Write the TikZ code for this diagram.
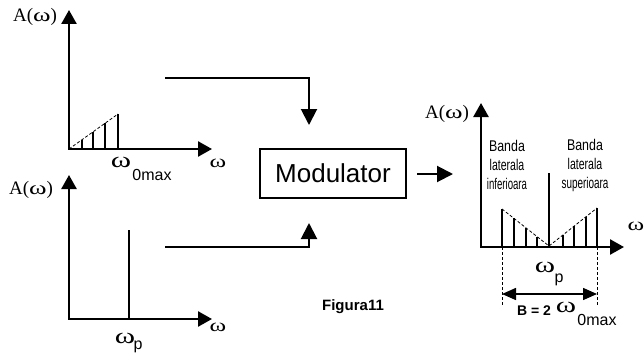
\documentclass[tikz,border=0pt]{standalone}
\usepackage{fontspec}
\usepackage{graphicx}
\setmainfont{Liberation Sans}
\newfontfamily\serif{Liberation Serif}
\newcommand\wom{\scalebox{1.4}[1]{ω}}
\usetikzlibrary{arrows.meta,calc}
\begin{document}
\begin{tikzpicture}[x=1pt,y=-1pt,
  axis/.style={line width=2.5pt,{Triangle[length=14pt,width=15pt]}-{Triangle[length=14pt,width=15pt]}},
  conn/.style={line width=2pt,-{Triangle[length=16pt,width=16pt]}},
  bar/.style={line width=1.8pt},
  env/.style={line width=0.8pt,dash pattern=on 3pt off 2pt},
  guide/.style={line width=0.8pt,dash pattern=on 3pt off 2pt},
  lbl/.style={inner sep=0pt,font=\serif\fontsize{19}{19}\selectfont},
  om/.style={inner sep=0pt,font=\serif\fontsize{18}{18}\selectfont},
  bigom/.style={inner sep=0pt,font=\serif\fontsize{22}{22}\selectfont},
  sub/.style={inner sep=0pt,font=\fontsize{16}{16}\selectfont},
  band/.style={inner sep=0pt,align=center,font=\fontsize{15.5}{19}\selectfont},
  box/.style={draw,line width=1.6pt,minimum width=146pt,minimum height=49pt,inner sep=0pt,font=\fontsize{26}{26}\selectfont}
]
\useasboundingbox (0,0) rectangle (644,353);

% ---------- top-left spectrum ----------
\coordinate (y1) at (69,10);
\coordinate (o1) at (69,149);
\coordinate (x1) at (212,149);
\draw[axis] (y1) -- (o1) -- (x1);
\coordinate (e1) at (118,114);
\draw[env] (o1) -- (e1);
\foreach \x in {82,93,105,118}{
  \draw[bar] (\x,149) -- (\x,{149-(\x-69)*35/49});
}
\node[lbl] (a1) at (35,17) {A(\wom)};
\node[om] (w1) at (218,163) {\wom};
\node[bigom] (w0) at (121,162) {\wom};
\node[sub] (w0s) at (152,175) {0max};

% ---------- bottom-left spectrum ----------
\coordinate (y2) at (69,175);
\coordinate (o2) at (69,319);
\coordinate (x2) at (212,319);
\draw[axis] (y2) -- (o2) -- (x2);
\draw[bar] (129,319) -- (129,230);
\node[lbl] (a2) at (31,190) {A(\wom)};
\node[om] (w2) at (218,327) {\wom};
\node[bigom] (wp) at (125,338) {\wom};
\node[sub] (wps) at (138,347) {p};

% ---------- modulator ----------
\node[box] (mod) at (333,173.5) {Modulator};
\coordinate (tin) at (165,78);
\coordinate (mtop) at (309,125);
\coordinate (bin) at (165,247);
\coordinate (mbot) at (309,223);
\draw[conn] (tin) -| (mtop);
\draw[conn] (bin) -| (mbot);
\coordinate (oin) at (417,174);
\coordinate (oout) at (453,174);
\draw[conn] (oin) -- (oout);

\node[font=\bfseries\fontsize{15}{15}\selectfont,inner sep=0pt] (fig) at (353,307) {Figura11};

% ---------- right spectrum ----------
\coordinate (y3) at (481,103);
\coordinate (o3) at (481,247);
\coordinate (x3) at (624,247);
\draw[axis] (y3) -- (o3) -- (x3);
\draw[bar] (549,247) -- (549,173);
\coordinate (el) at (502,209);
\coordinate (em) at (549,246);
\coordinate (er) at (597,208);
\draw[env] (el) -- (em) -- (er);
\foreach \x in {502,514,526,537}{
  \draw[bar] (\x,247) -- (\x,{209+(\x-502)*37/47});
}
\foreach \x in {563,574,586,597}{
  \draw[bar] (\x,247) -- (\x,{246-(\x-549)*38/48});
}
\node[lbl] (a3) at (447,114) {A(\wom)};
\node[om] (w3) at (636,226) {\wom};
\node[band] (bl) at (507,165) {\scalebox{0.8}[1]{Banda}\\\scalebox{0.68}[1]{laterala}\\\scalebox{0.62}[1]{inferioara}};
\node[band] (bu) at (585,165) {\scalebox{0.8}[1]{Banda}\\\scalebox{0.68}[1]{laterala}\\\scalebox{0.64}[1]{superioara}};

\coordinate (dl0) at (502,247);
\coordinate (dl1) at (502,306);
\coordinate (dr0) at (597,247);
\coordinate (dr1) at (597,306);
\draw[guide] (dl0) -- (dl1);
\draw[guide] (dr0) -- (dr1);
\coordinate (bl0) at (502,294);
\coordinate (br0) at (597,294);
\draw[line width=1.5pt,{Triangle[length=14pt,width=12pt]}-{Triangle[length=14pt,width=12pt]}] (bl0) -- (br0);
\node[bigom] (wp3) at (545,267) {\wom};
\node[sub] (wp3s) at (559,280) {p};
\node[font=\bfseries\fontsize{14}{14}\selectfont,inner sep=0pt] (bw) at (534,311) {B = 2};
\node[bigom] (w03) at (566,307) {\wom};
\node[sub] (w03s) at (597,320) {0max};
\end{tikzpicture}
\end{document}
